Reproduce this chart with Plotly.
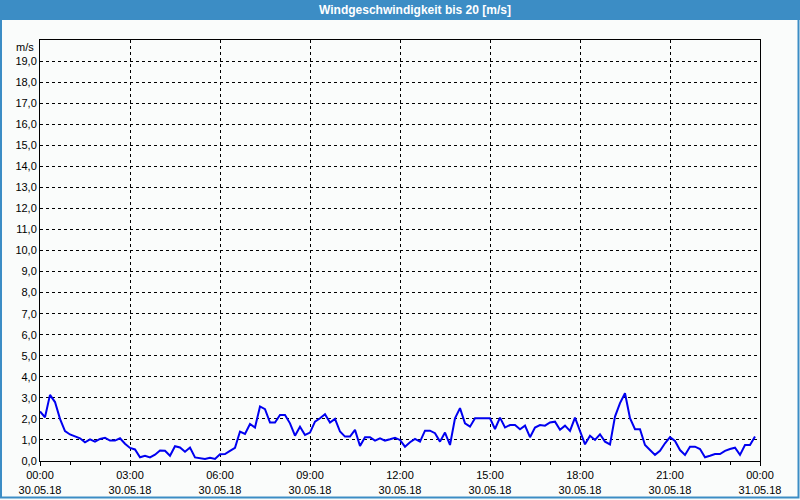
import plotly.graph_objects as go

# --- data (10-minute samples, 30.05.18 00:00 .. 23:50) ---
wind_ms = [
    2.35, 2.08, 3.14, 2.80, 2.00, 1.42, 1.26, 1.18, 1.08, 0.89, 1.03, 0.92,
    1.05, 1.10, 0.97, 0.97, 1.08, 0.82, 0.62, 0.55, 0.18, 0.25, 0.17, 0.30,
    0.50, 0.49, 0.25, 0.70, 0.64, 0.44, 0.64, 0.17, 0.15, 0.10, 0.15, 0.10,
    0.32, 0.33, 0.48, 0.63, 1.40, 1.29, 1.76, 1.59, 2.59, 2.46, 1.83, 1.83,
    2.19, 2.19, 1.79, 1.20, 1.63, 1.24, 1.35, 1.87, 2.03, 2.22, 1.83, 2.00,
    1.40, 1.16, 1.16, 1.48, 0.71, 1.13, 1.13, 0.97, 1.08, 0.97, 1.03, 1.10,
    1.00, 0.68, 0.89, 1.05, 0.92, 1.44, 1.44, 1.32, 0.92, 1.35, 0.76, 2.03,
    2.51, 1.79, 1.63, 2.03, 2.03, 2.03, 2.03, 1.52, 2.06, 1.59, 1.71, 1.71,
    1.51, 1.68, 1.13, 1.59, 1.71, 1.68, 1.83, 1.87, 1.48, 1.68, 1.43, 2.06,
    1.40, 0.79, 1.20, 1.00, 1.27, 0.92, 0.79, 2.11, 2.75, 3.22, 2.03, 1.51,
    1.51, 0.76, 0.52, 0.29, 0.48, 0.84, 1.13, 0.95, 0.52, 0.29, 0.68, 0.68,
    0.57, 0.18, 0.25, 0.33, 0.33, 0.48, 0.57, 0.63, 0.29, 0.76, 0.76, 1.16,
]
hours = [i / 6 for i in range(len(wind_ms))]

x_tickvals = [0, 3, 6, 9, 12, 15, 18, 21, 24]
x_times = ["00:00", "03:00", "06:00", "09:00", "12:00", "15:00", "18:00", "21:00", "00:00"]
x_dates = ["30.05.18"] * 8 + ["31.05.18"]
x_ticktext = [f"{t}<br>{d}" for t, d in zip(x_times, x_dates)]
y_tickvals = list(range(0, 20))

title_text = "Windgeschwindigkeit bis 20 [m/s]"
unit_text = "m/s"

BLUE_BAR = "#3C8DC5"
BG = "#FAFCFB"
FONT = "Liberation Sans"

fig = go.Figure()
fig.add_trace(go.Scatter(
    x=hours, y=wind_ms, mode="lines",
    line=dict(color="#0000F0", width=2),
    hoverinfo="skip", showlegend=False,
))

W, H = 800, 500
L, R, T, B = 40, 40, 40, 39
pw, ph = W - L - R, H - T - B

def px_x(p):
    return (p - L) / pw

def px_y(p):
    return (H - B - p) / ph

fig.update_layout(
    width=W, height=H,
    margin=dict(l=L, r=R, t=T, b=B, pad=0, autoexpand=False),
    paper_bgcolor=BG, plot_bgcolor=BG,
    separators=",.",
    font=dict(family=FONT, size=11, color="#000000"),
    showlegend=False,
    shapes=[
        dict(type="rect", xref="paper", yref="paper",
             x0=px_x(0), x1=px_x(800), y0=px_y(0), y1=px_y(20),
             fillcolor=BLUE_BAR, line=dict(width=0), layer="above"),
        dict(type="rect", xref="paper", yref="paper",
             x0=px_x(1), x1=px_x(798.5), y0=px_y(18), y1=px_y(497.5),
             fillcolor="rgba(0,0,0,0)", line=dict(color=BLUE_BAR, width=2), layer="above"),
    ],
    annotations=[
        dict(text=f"<b>{title_text}</b>", xref="paper", yref="paper",
             x=px_x(415), y=px_y(10), xanchor="center", yanchor="middle",
             showarrow=False, font=dict(family=FONT, size=12, color="#FFFFFF")),
        dict(text=unit_text, xref="paper", yref="paper",
             x=0, y=px_y(47), xanchor="right", yanchor="middle", xshift=-4,
             showarrow=False, font=dict(family=FONT, size=11, color="#000000")),
    ],
)

fig.update_xaxes(
    range=[0, 24], tickmode="array", tickvals=x_tickvals, ticktext=x_ticktext,
    showline=True, mirror=True, linecolor="#000000", linewidth=1,
    showgrid=True, gridcolor="#000000", gridwidth=1, griddash="3px,3px",
    ticks="outside", ticklen=4, tickcolor="#000000",
    minor=dict(dtick=1, tick0=0, ticks="outside", ticklen=3, tickcolor="#000000", showgrid=False),
    zeroline=False, fixedrange=True, automargin=False,
    tickfont=dict(family=FONT, size=11, color="#000000"),
)
fig.update_yaxes(
    range=[0, 20], tickmode="array", tickvals=y_tickvals, tickformat=".1f",
    showline=True, mirror=True, linecolor="#000000", linewidth=1,
    showgrid=True, gridcolor="#000000", gridwidth=1, griddash="3px,3px",
    ticks="", zeroline=False, fixedrange=True, automargin=False,
    tickfont=dict(family=FONT, size=11, color="#000000"),
)

fig.write_html("out.html")
